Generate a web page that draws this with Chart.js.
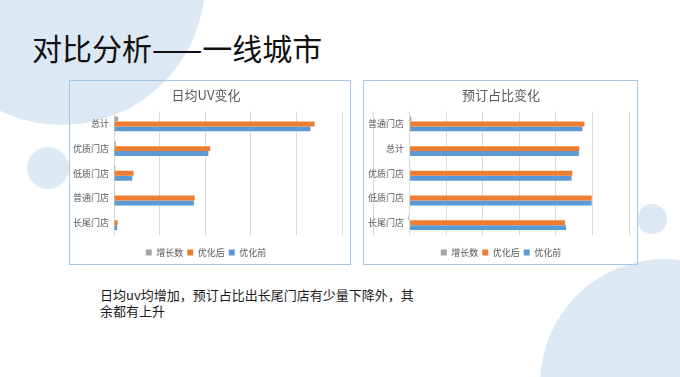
<!DOCTYPE html>
<html>
<head>
<meta charset="utf-8">
<script src="https://cdn.jsdelivr.net/npm/chart.js@4"></script>
<style>
  html, body { margin: 0; padding: 0; }
  body { width: 680px; height: 377px; position: relative; overflow: hidden; background: #fff;
         font-family: "Noto Sans CJK SC", "Noto Sans", sans-serif; }
  .dot { position: absolute; border-radius: 50%; background: #dce9f5; }
  .title { position: absolute; left: 32px; top: 29px; font-size: 30px; line-height: 36px; color: #111; white-space: nowrap; }
  .box { position: absolute; border: 1.5px solid #a3c7e8; box-sizing: border-box; }
  .box canvas { position: absolute; left: 0; top: 0; }
  .note { position: absolute; left: 100px; top: 287px; width: 320px; font-size: 13px; line-height: 16px; color: #1a1a1a; }
</style>
</head>
<body>
<div class="dot" style="left:-81px; top:-161px; width:286px; height:286px;"></div>
<div class="dot" style="left:27px; top:147px; width:42px; height:42px;"></div>
<div class="dot" style="left:637px; top:204px; width:30px; height:30px;"></div>
<div class="dot" style="left:540px; top:259px; width:250px; height:250px;"></div>

<div class="title">对比分析——一线城市</div>

<div class="box" style="left:69px; top:80px; width:282px; height:185px;">
  <canvas id="chart-uv" width="279" height="186"></canvas>
</div>
<div class="box" style="left:363px; top:80px; width:275px; height:185px;">
  <canvas id="chart-book" width="272" height="186"></canvas>
</div>

<div class="note">日均uv均增加，预订占比出长尾门店有少量下降外，其余都有上升</div>

<script>
// 日均UV变化
const uvLabels = ['总计', '优质门店', '低质门店', '普通门店', '长尾门店'];
const uvGrowth = [0.09, 0.04, 0.03, 0.02, 0.01];
const uvAfter = [4.40, 2.11, 0.43, 1.77, 0.08];
const uvBefore = [4.31, 2.07, 0.40, 1.75, 0.07];

// 预订占比变化 (%)
const bookLabels = ['普通门店', '总计', '优质门店', '低质门店', '长尾门店'];
const bookGrowth = [0.5, 0.1, 0.2, 0.0, -0.3];
const bookAfter = [47.8, 46.4, 44.5, 49.8, 42.5];
const bookBefore = [47.3, 46.3, 44.3, 49.8, 42.8];

const seriesNames = ['增长数', '优化后', '优化前'];
const seriesColors = ['#a5a5a5', '#ed7d31', '#5b9bd5'];
const fontFamily = '"Noto Sans CJK SC", "Noto Sans", sans-serif';
const textColor = '#595959';

function makeDatasets(values) {
  return values.map((data, i) => ({
    label: seriesNames[i],
    data: data,
    backgroundColor: seriesColors[i],
    borderWidth: 0,
    categoryPercentage: 0.6,
    barPercentage: 1
  }));
}

function buildChart(id, title, labels, values, xOpts, yWidth, yTicks, padLeft) {
  return new Chart(document.getElementById(id), {
    type: 'bar',
    data: { labels: labels, datasets: makeDatasets(values) },
    options: {
      indexAxis: 'y',
      responsive: false,
      animation: false,
      layout: { padding: { left: padLeft, right: 7, top: 0, bottom: 0 } },
      plugins: {
        title: {
          display: true,
          text: title,
          color: textColor,
          font: { family: fontFamily, size: 13, weight: 'normal' },
          padding: { top: 6, bottom: 9 }
        },
        legend: {
          position: 'bottom',
          labels: {
            boxWidth: 6, boxHeight: 6, padding: 4,
            color: textColor,
            font: { family: fontFamily, size: 9 }
          }
        },
        tooltip: { enabled: false }
      },
      scales: {
        x: Object.assign({
          grid: { color: '#d9d9d9', drawTicks: false },
          border: { display: false },
          afterFit: (s) => { s.height = 9; }
        }, xOpts),
        y: {
          grid: { display: false, drawTicks: false },
          border: { display: false },
          ticks: Object.assign({ color: textColor, font: { family: fontFamily, size: 9 } }, yTicks),
          afterFit: (s) => { s.width = yWidth; }
        }
      }
    }
  });
}

buildChart('chart-uv', '日均UV变化', uvLabels, [uvGrowth, uvAfter, uvBefore],
  { min: 0, max: 5, ticks: { display: false, stepSize: 1 } }, 44, { padding: 5 }, 0);
// labels sit beside the zero line, over the negative part of the axis
buildChart('chart-book', '预订占比变化', bookLabels, [bookGrowth, bookAfter, bookBefore],
  { min: -10, max: 60, ticks: { display: false, stepSize: 10 } }, 0,
  { mirror: true, crossAlign: 'far', padding: -5 }, 9);
</script>
</body>
</html>
